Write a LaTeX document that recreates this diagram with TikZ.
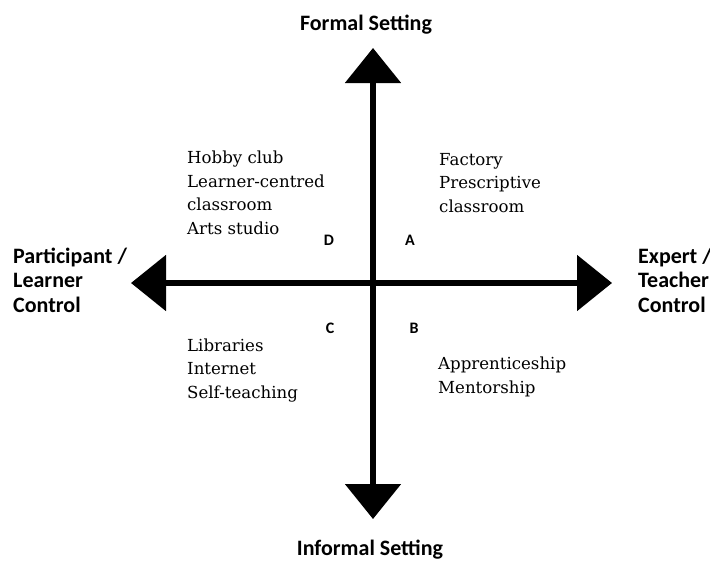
\documentclass[tikz,border=0pt]{standalone}
\usepackage{fontspec}
\setmainfont{DejaVu Serif}
\newfontfamily\calfont{Carlito}
\usetikzlibrary{arrows.meta}

\begin{document}
\begin{tikzpicture}[x=1pt,y=-1pt,
  axis/.style={line width=5.5pt,{Triangle[length=35pt,width=55pt]}-{Triangle[length=35pt,width=55pt]}},
  pole/.style={font=\calfont\bfseries\fontsize{22}{24.5}\selectfont,align=left,inner sep=0pt},
  quad/.style={font=\calfont\bfseries\fontsize{16}{18}\selectfont,inner sep=0pt,anchor=base},
  examples/.style={font=\fontsize{16.6}{23.5}\selectfont,align=left,inner sep=0pt,anchor=base west}]
\useasboundingbox (0,0) rectangle (710,560);
\coordinate (north) at (373,48);
\coordinate (south) at (373,519);
\coordinate (west) at (131,283);
\coordinate (east) at (612,283);
\draw[axis] (south) -- (north);
\draw[axis] (west) -- (east);
% axis ends
\node[pole,anchor=base] (formal) at (366,30) {Formal Setting};
\node[pole,anchor=base] (informal) at (370,555) {Informal Setting};
\node[pole,anchor=base west] (learner) at (13,312) {Participant /\\Learner\\Control};
\node[pole,anchor=base west] (teacher) at (638,312) {Expert /\\Teacher\\Control};
% quadrants
\node[quad] (qa) at (410,245) {A};
\node[quad] (qb) at (414,333) {B};
\node[quad] (qc) at (330,333) {C};
\node[quad] (qd) at (329,245) {D};
\node[examples] (exa) at (439,212) {Factory\\Prescriptive\\classroom};
\node[examples] (exb) at (438,393) {Apprenticeship\\Mentorship};
\node[examples] (exc) at (187,398) {Libraries\\Internet\\Self-teaching};
\node[examples] (exd) at (187,234) {Hobby club\\Learner-centred\\classroom\\Arts studio};
\end{tikzpicture}
\end{document}
